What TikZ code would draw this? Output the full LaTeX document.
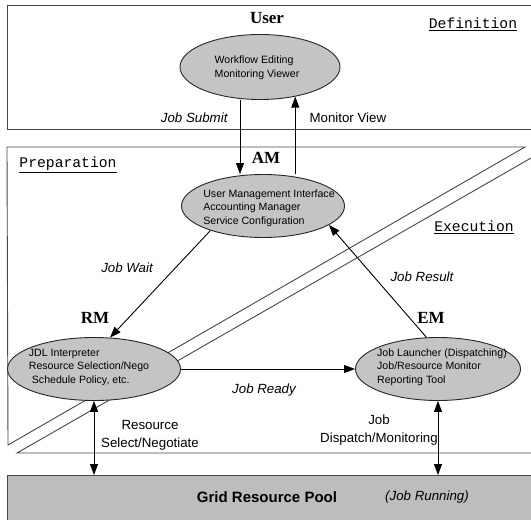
\documentclass[tikz,border=0pt]{standalone}
\usepackage{fontspec}
\setmainfont{Liberation Sans}
\setmonofont{Liberation Mono}
\newfontfamily\mgrfont{Liberation Serif}
\usetikzlibrary{shapes.geometric, arrows.meta}

\definecolor{ovalgray}{gray}{0.77}
\definecolor{poolgray}{gray}{0.74}
\definecolor{edgegray}{gray}{0.28}

\tikzstyle{oval} = [ellipse, draw=black!85, fill=ovalgray, line width=0.9pt, inner sep=0pt]
\tikzstyle{inside} = [align=left, font=\fontsize{10.6}{13.5}\selectfont]
\tikzstyle{manager} = [font=\mgrfont\bfseries\fontsize{17}{20}\selectfont]
\tikzstyle{phase} = [font=\ttfamily\fontsize{14.7}{17}\selectfont]
\tikzstyle{flow} = [font=\fontsize{13.3}{16}\selectfont\itshape]
\tikzstyle{plain} = [align=center, font=\fontsize{13.3}{18}\selectfont]
\tikzstyle{region} = [draw=edgegray, line width=0.9pt]
\tikzstyle{arrow} = [line width=0.9pt, ->, >={Triangle[length=11pt,width=8pt]}]
\tikzstyle{dblarrow} = [arrow, <->]

\begin{document}
\begin{tikzpicture}[x=1pt, y=-1pt]
\useasboundingbox (0,0) rectangle (531,520);
\clip (0,0) rectangle (531,520);

% phase areas
\draw [region] (7,5) rectangle (545,129);
\draw [region] (7,147) -- (525,147) -- (8,445) -- cycle;
\draw [region] (545,150) -- (17,453) -- (545,453);
\node (pool) [rectangle, draw=edgegray, fill=poolgray, line width=0.9pt, anchor=north west, minimum width=545pt, minimum height=60pt] at (7,475) {};

\node (usr) [oval, minimum width=160pt, minimum height=65pt] at (260,67) {};
\node (am) [oval, minimum width=163pt, minimum height=63pt] at (263,206) {};
\node (rm) [oval, minimum width=173pt, minimum height=63pt] at (94,369) {};
\node (em) [oval, minimum width=165pt, minimum height=63pt] at (438,369) {};

\node (usrtext) [inside] at (257,68) {Workflow Editing\\Monitoring Viewer};
\node (amtext) [inside] at (269,208) {User Management Interface\\Accounting Manager\\Service Configuration};
\node (rmtext) [inside] at (89,367) {JDL Interpreter\\Resource Selection/Nego\\\hspace{3pt}Schedule Policy, etc.};
\node (emtext) [inside] at (442,367) {Job Launcher (Dispatching)\\Job/Resource Monitor\\Reporting Tool};

\node (usrname) [manager] at (267,18) {User};
\node (amname) [manager] at (266,158) {AM};
\node (rmname) [manager] at (95,318) {RM};
\node (emname) [manager] at (431,318) {EM};

\node (defn) [phase] at (473,24) {\underline{Definition}};
\node (prep) [phase] at (68,165) {\underline{Preparation}};
\node (exec) [phase] at (474,227) {\underline{Execution}};

\coordinate (sub) at ([xshift=-20pt]usr.south);
\draw [arrow] (sub) -- (sub |- am.north);
\draw [arrow] (usr.-40 |- am.north) -- (usr.-40);
\draw [arrow] (am.-155) -- (rm.63);
\draw [arrow] (em.110) -- (am.-16);
\draw [arrow] (rm.east) -- (em.west);
\draw [dblarrow] (rm.south) -- (rm.south |- pool.north);
\draw [dblarrow] (em.south) -- (em.south |- pool.north);

\node (jsub) [flow, anchor=east] at (231,118) {Job Submit};
\node (mview) [plain, anchor=west] at (306,118) {Monitor View};
\node (jwait) [flow] at (127,268) {Job Wait};
\node (jresult) [flow] at (422,277) {Job Result};
\node (jready) [flow] at (264,390) {Job Ready};
\node (rsel) [plain] at (150,435) {Resource\\Select/Negotiate};
\node (jdisp) [plain] at (379,430) {Job\\Dispatch/Monitoring};

\node (pooltext) [font=\bfseries\fontsize{15}{18}\selectfont] at (267,497) {Grid Resource Pool};
\node (running) [flow] at (427,497) {(Job Running)};

\end{tikzpicture}
\end{document}
